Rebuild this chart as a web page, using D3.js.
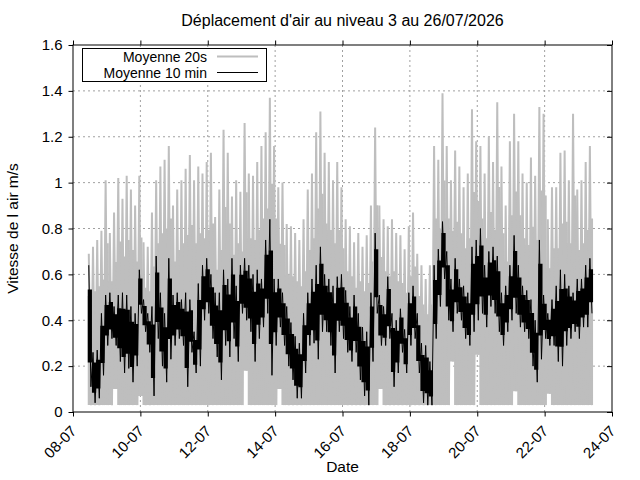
<!DOCTYPE html>
<html>
<head>
<meta charset="utf-8">
<script src="https://cdn.jsdelivr.net/npm/d3@7"></script>
<style>
  body { margin: 0; background: #fff; }
  text { font-family: "Liberation Sans", Arial, sans-serif; fill: #000; }
</style>
</head>
<body>
<div id="chart"></div>
<script>
var title = "Déplacement d'air au niveau 3 au 26/07/2026";
var xTickLabels = ["08-07","10-07","12-07","14-07","16-07","18-07","20-07","22-07","24-07"];
var yTicks = [0, 0.2, 0.4, 0.6, 0.8, 1, 1.2, 1.4, 1.6];
var seriesNames = ["Moyenne 20s", "Moyenne 10 min"];

// 3 hour bins, first one starting 08-07 10:30
var binStart = "2026-07-08T10:30";
var binHours = 3;

// Moyenne 20s : max and min per bin
var grayHi = [
  0.69,0.72,0.75,0.79,1.01,0.78,0.87,1.02,0.93,1.03,
  0.97,0.90,1.03,0.74,0.72,0.87,1.01,1.07,1.10,1.16,
  0.90,0.97,1.01,1.06,1.12,1.01,1.07,1.04,1.09,1.13,
  0.85,0.97,1.23,1.13,0.94,1.01,0.96,1.26,1.04,1.03,
  1.09,1.16,1.22,1.37,1.16,0.98,1.00,0.82,0.81,0.78,
  0.75,0.84,0.97,1.04,1.22,1.31,1.13,1.09,1.01,1.09,
  0.98,0.84,0.81,0.74,0.78,0.72,0.77,0.90,1.24,0.90,
  0.84,0.81,0.84,0.78,0.77,0.71,0.81,0.87,0.69,0.64,
  0.58,0.64,1.16,1.10,1.39,1.16,1.01,1.14,1.07,0.98,
  1.04,1.32,1.18,1.16,1.04,1.20,1.09,1.35,1.07,0.90,
  1.18,1.30,1.18,1.04,1.00,1.11,1.03,1.33,1.30,0.84,
  0.98,0.98,1.13,1.14,1.01,1.30,0.97,1.01,1.09,1.16
];
var grayLo = [
  0.03,0.03,0.03,0.03,0.03,0.03,0.10,0.03,0.03,0.03,
  0.03,0.03,0.07,0.03,0.03,0.03,0.03,0.03,0.03,0.03,
  0.03,0.03,0.03,0.03,0.03,0.03,0.03,0.03,0.03,0.03,
  0.03,0.03,0.03,0.03,0.03,0.03,0.03,0.18,0.03,0.03,
  0.03,0.03,0.03,0.03,0.03,0.10,0.03,0.03,0.03,0.03,
  0.03,0.03,0.03,0.03,0.03,0.03,0.03,0.03,0.03,0.03,
  0.03,0.03,0.03,0.03,0.03,0.03,0.03,0.03,0.03,0.10,
  0.03,0.03,0.03,0.03,0.03,0.03,0.03,0.03,0.03,0.03,
  0.03,0.03,0.03,0.03,0.03,0.03,0.22,0.03,0.03,0.03,
  0.03,0.03,0.25,0.03,0.03,0.03,0.03,0.03,0.03,0.03,
  0.03,0.09,0.03,0.03,0.03,0.03,0.03,0.03,0.03,0.08,
  0.03,0.03,0.03,0.03,0.03,0.03,0.03,0.03,0.03,0.03
];

// Moyenne 10 min : max and min per bin
var blackHi = [
  0.64,0.26,0.27,0.43,0.51,0.52,0.46,0.51,0.52,0.51,
  0.46,0.43,0.62,0.49,0.43,0.46,0.68,0.52,0.43,0.67,
  0.51,0.52,0.49,0.52,0.49,0.35,0.56,0.64,0.67,0.60,
  0.52,0.52,0.62,0.58,0.67,0.55,0.64,0.67,0.64,0.60,
  0.62,0.58,0.75,0.84,0.58,0.58,0.52,0.46,0.39,0.33,
  0.30,0.43,0.52,0.58,0.64,0.72,0.60,0.58,0.55,0.59,
  0.60,0.53,0.46,0.51,0.43,0.37,0.35,0.52,0.78,0.51,
  0.46,0.59,0.43,0.40,0.45,0.36,0.52,0.55,0.43,0.30,
  0.29,0.22,0.64,0.71,0.83,0.70,0.58,0.67,0.58,0.55,
  0.52,0.72,0.75,0.80,0.64,0.70,0.72,0.68,0.52,0.55,
  0.64,0.77,0.64,0.55,0.53,0.49,0.40,0.75,0.51,0.43,
  0.49,0.55,0.62,0.60,0.55,0.52,0.58,0.58,0.64,0.67
];
var blackLo = [
  0.11,0.04,0.06,0.16,0.29,0.32,0.29,0.22,0.17,0.19,
  0.13,0.20,0.43,0.35,0.26,0.07,0.32,0.20,0.13,0.23,
  0.29,0.32,0.29,0.11,0.26,0.17,0.20,0.40,0.43,0.32,
  0.24,0.14,0.29,0.24,0.32,0.22,0.43,0.40,0.35,0.22,
  0.32,0.37,0.43,0.16,0.29,0.37,0.29,0.20,0.14,0.06,
  0.06,0.17,0.29,0.30,0.23,0.35,0.35,0.29,0.17,0.35,
  0.32,0.26,0.22,0.26,0.14,0.07,0.03,0.22,0.43,0.29,
  0.29,0.32,0.11,0.17,0.26,0.17,0.29,0.32,0.17,0.04,
  0.03,0.03,0.32,0.46,0.58,0.40,0.35,0.43,0.40,0.32,
  0.29,0.35,0.40,0.43,0.37,0.46,0.43,0.35,0.29,0.35,
  0.40,0.43,0.37,0.35,0.32,0.20,0.13,0.23,0.32,0.29,
  0.29,0.22,0.20,0.29,0.32,0.35,0.32,0.37,0.37,0.43
];

function init(){
    var w = 640;
    var h = 480;
    var margin = {top: 45, right: 28, bottom: 68, left: 73};
    var pw = w - margin.left - margin.right;
    var ph = h - margin.top - margin.bottom;

    var parseDay = d3.utcParse("%d-%m-%Y");
    var tickDates = xTickLabels.map(function(d){ return parseDay(d + "-2026"); });
    var t0 = d3.utcParse("%Y-%m-%dT%H:%M")(binStart);

    var x = d3.scaleUtc()
              .domain([tickDates[0], tickDates[tickDates.length - 1]])
              .range([0, pw]);
    var y = d3.scaleLinear()
              .domain([0, 1.6])
              .range([ph, 0]);

    // one record per bin, plus a closing record so the last step has a width
    function bins(hi, lo){
        var rows = hi.map(function(v, i){
            return {t: d3.utcHour.offset(t0, i * binHours), hi: v, lo: lo[i]};
        });
        var last = rows[rows.length - 1];
        rows.push({t: d3.utcHour.offset(last.t, binHours), hi: last.hi, lo: last.lo});
        return rows;
    }

    // solid part of a noisy trace: the middle share of each bin's range
    function core(rows, from, to){
        return rows.map(function(d){
            var r = d.hi - d.lo;
            return {t: d.t, hi: d.lo + r * to, lo: d.lo + r * from};
        });
    }

    var band = d3.area()
                 .curve(d3.curveStepAfter)
                 .x(function(d){ return x(d.t); })
                 .y0(function(d){ return y(d.lo); })
                 .y1(function(d){ return y(d.hi); });

    // thin trace through each bin (max then min) for the spiky edges
    function zigzag(rows){
        var pts = [];
        rows.slice(0, -1).forEach(function(d){
            pts.push([d3.utcMinute.offset(d.t, binHours * 15), d.hi]);
            pts.push([d3.utcMinute.offset(d.t, binHours * 45), d.lo]);
        });
        return pts;
    }
    var line = d3.line()
                 .x(function(d){ return x(d[0]); })
                 .y(function(d){ return y(d[1]); });

    var svg = d3.select("#chart")
                .append("svg")
                .attr("width", w)
                .attr("height", h);

    var g = svg.append("g")
               .attr("transform", "translate(" + margin.left + "," + margin.top + ")");

    // grid
    g.selectAll("line.gx")
     .data(tickDates.slice(1, -1))
     .enter().append("line")
     .attr("x1", function(d){ return x(d); })
     .attr("x2", function(d){ return x(d); })
     .attr("y1", 0).attr("y2", ph)
     .attr("stroke", "#a0a0a0")
     .attr("stroke-dasharray", "2,3");

    g.selectAll("line.gy")
     .data(yTicks.slice(1, -1))
     .enter().append("line")
     .attr("x1", 0).attr("x2", pw)
     .attr("y1", function(d){ return y(d); })
     .attr("y2", function(d){ return y(d); })
     .attr("stroke", "#a0a0a0")
     .attr("stroke-dasharray", "2,3");

    // Moyenne 20s
    var grayRows = bins(grayHi, grayLo);
    g.append("path")
     .attr("d", band(core(grayRows, 0, 0.72)))
     .attr("fill", "#bebebe");
    g.append("path")
     .attr("d", line(zigzag(grayRows)))
     .attr("fill", "none")
     .attr("stroke", "#bebebe")
     .attr("stroke-width", 2);

    // Moyenne 10 min
    var blackRows = bins(blackHi, blackLo);
    g.append("path")
     .attr("d", line(zigzag(blackRows)))
     .attr("fill", "none")
     .attr("stroke", "#000")
     .attr("stroke-width", 1);
    g.append("path")
     .attr("d", band(core(blackRows, 0.2, 0.8)))
     .attr("fill", "#000");

    // border
    g.append("rect")
     .attr("width", pw).attr("height", ph)
     .attr("fill", "none")
     .attr("stroke", "#000");

    // x axis bottom + top
    var minor = d3.utcHour.every(12).range(tickDates[0], d3.utcHour.offset(tickDates[tickDates.length - 1], 1));

    var xb = g.append("g")
              .attr("transform", "translate(0," + ph + ")")
              .call(d3.axisBottom(x).tickValues(minor).tickSize(2.5).tickFormat(""));
    xb.call(d3.axisBottom(x).tickValues(tickDates).tickSize(4.5).tickFormat(function(d, i){ return xTickLabels[i]; }));
    xb.selectAll(".domain").remove();
    xb.selectAll("text")
      .style("font-size", "15px")
      .attr("text-anchor", "end")
      .attr("dy", null)
      .attr("y", 0)
      .attr("transform", "translate(4,20) rotate(-45)");

    var xt = g.append("g")
              .call(d3.axisTop(x).tickValues(minor).tickSize(2.5).tickFormat(""));
    xt.call(d3.axisTop(x).tickValues(tickDates).tickSize(4.5).tickFormat(""));
    xt.selectAll(".domain").remove();

    // y axis left + right
    var yl = g.append("g")
              .call(d3.axisLeft(y).tickValues(yTicks).tickSize(4.5).tickPadding(6)
                    .tickFormat(d3.format("")));
    yl.selectAll(".domain").remove();
    yl.selectAll("text").style("font-size", "15px");

    var yr = g.append("g")
              .attr("transform", "translate(" + pw + ",0)")
              .call(d3.axisLeft(y).tickValues(yTicks).tickSize(5).tickFormat(""));
    yr.selectAll(".domain").remove();
    yr.selectAll("line").attr("x2", -5);

    // titles
    svg.append("text")
       .attr("x", margin.left + pw / 2)
       .attr("y", 26)
       .attr("text-anchor", "middle")
       .style("font-size", "16px")
       .text(title);

    svg.append("text")
       .attr("x", margin.left + pw / 2)
       .attr("y", 472)
       .attr("text-anchor", "middle")
       .style("font-size", "15.5px")
       .text("Date");

    svg.append("text")
       .attr("transform", "translate(18," + (margin.top + ph / 2) + ") rotate(-90)")
       .attr("text-anchor", "middle")
       .style("font-size", "15.5px")
       .text("Vitesse de l air m/s");

    // legend
    var lg = svg.append("g");
    lg.append("rect")
      .attr("x", 82.5).attr("y", 48.5)
      .attr("width", 184).attr("height", 33)
      .attr("fill", "#fff")
      .attr("stroke", "#000");

    var legendStyle = [{c: "#bebebe", sw: 2}, {c: "#000", sw: 1}];
    seriesNames.forEach(function(name, i){
        var ly = 56.5 + i * 16;
        lg.append("text")
          .attr("x", 207).attr("y", ly + 5)
          .attr("text-anchor", "end")
          .style("font-size", "14px")
          .text(name);
        lg.append("line")
          .attr("x1", 217).attr("x2", 258)
          .attr("y1", ly).attr("y2", ly)
          .attr("stroke", legendStyle[i].c)
          .attr("stroke-width", legendStyle[i].sw);
    });
}

window.onload = init;
</script>
</body>
</html>
